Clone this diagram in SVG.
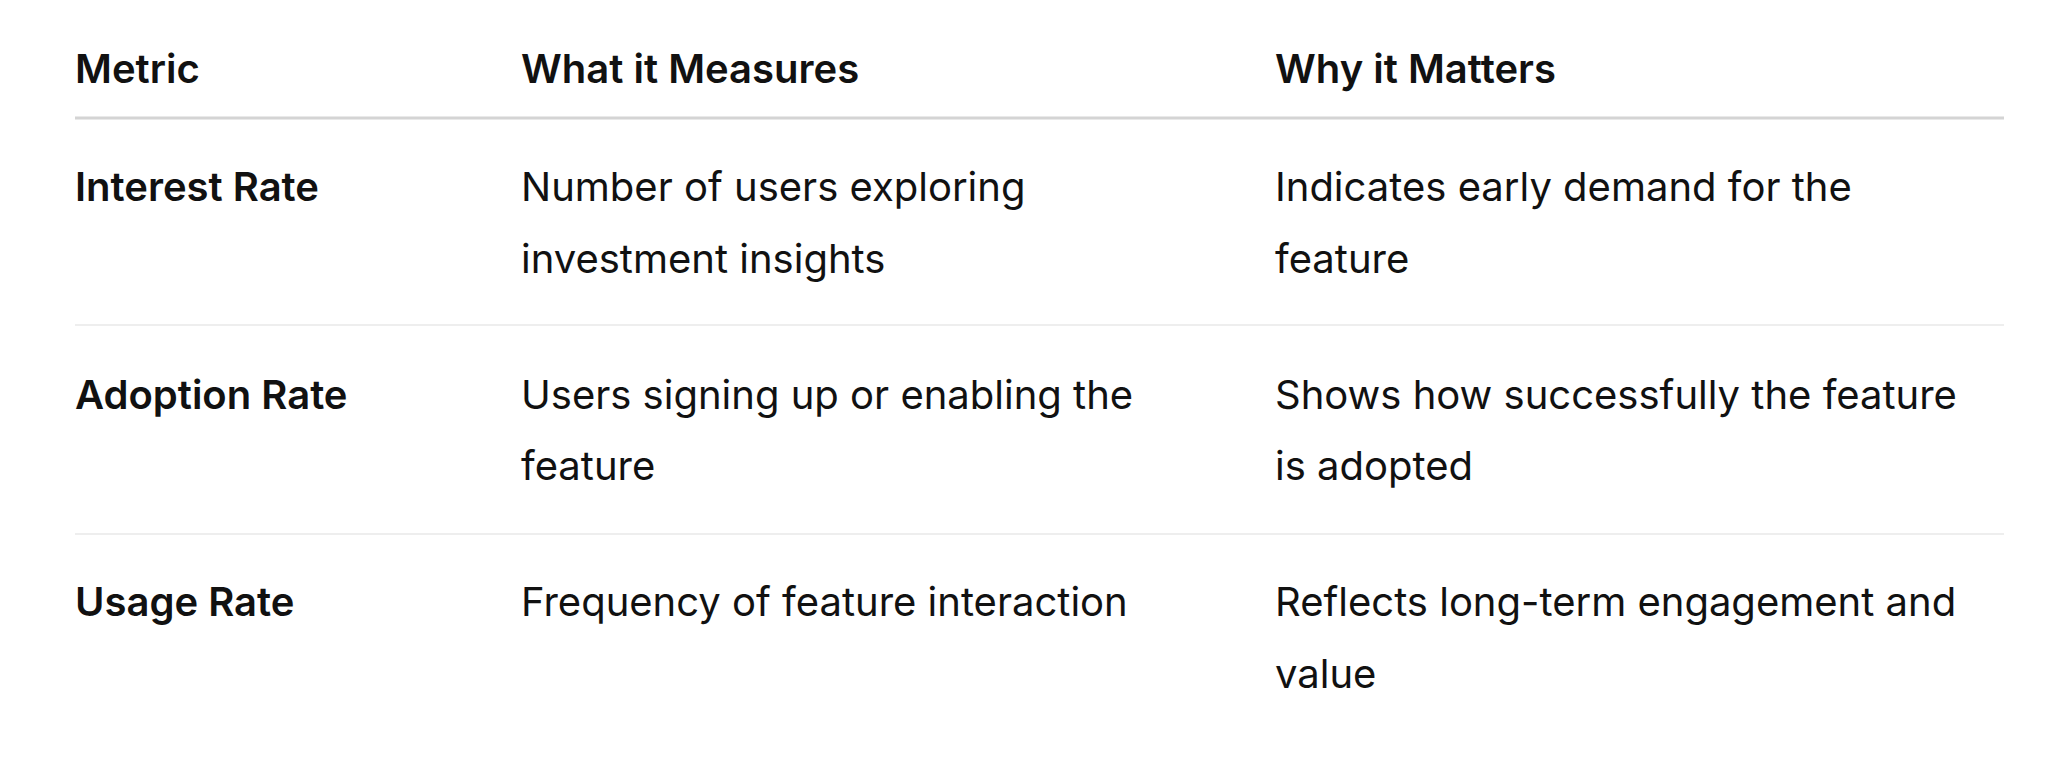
<svg xmlns="http://www.w3.org/2000/svg" width="2064" height="762" viewBox="0 0 2064 762">
<style>
text{font-family:Inter,"Noto Sans",sans-serif;font-size:40px;fill:#111}
.b{font-weight:600}
.h{stroke:#d4d4d4;stroke-width:3}
.s{stroke:#eeeeee;stroke-width:2}
</style>
<rect width="2064" height="762" fill="#fff"/>
<g id="header">
<text class="b" x="75" y="83">Metric</text>
<text class="b" x="521" y="83">What it Measures</text>
<text class="b" x="1275" y="83">Why it Matters</text>
</g>
<g id="lines">
<line class="h" x1="75" y1="118" x2="2004" y2="118"/>
<line class="s" x1="75" y1="325" x2="2004" y2="325"/>
<line class="s" x1="75" y1="534" x2="2004" y2="534"/>
</g>
<g id="row1">
<text class="b" x="75" y="201">Interest Rate</text>
<text x="521" y="201">Number of users exploring</text>
<text x="521" y="273">investment insights</text>
<text x="1275" y="201">Indicates early demand for the</text>
<text x="1275" y="273">feature</text>
</g>
<g id="row2">
<text class="b" x="75" y="409">Adoption Rate</text>
<text x="521" y="409">Users signing up or enabling the</text>
<text x="521" y="480">feature</text>
<text x="1275" y="409">Shows how successfully the feature</text>
<text x="1275" y="480">is adopted</text>
</g>
<g id="row3">
<text class="b" x="75" y="616">Usage Rate</text>
<text x="521" y="616">Frequency of feature interaction</text>
<text x="1275" y="616">Reflects long-term engagement and</text>
<text x="1275" y="688">value</text>
</g>
</svg>
